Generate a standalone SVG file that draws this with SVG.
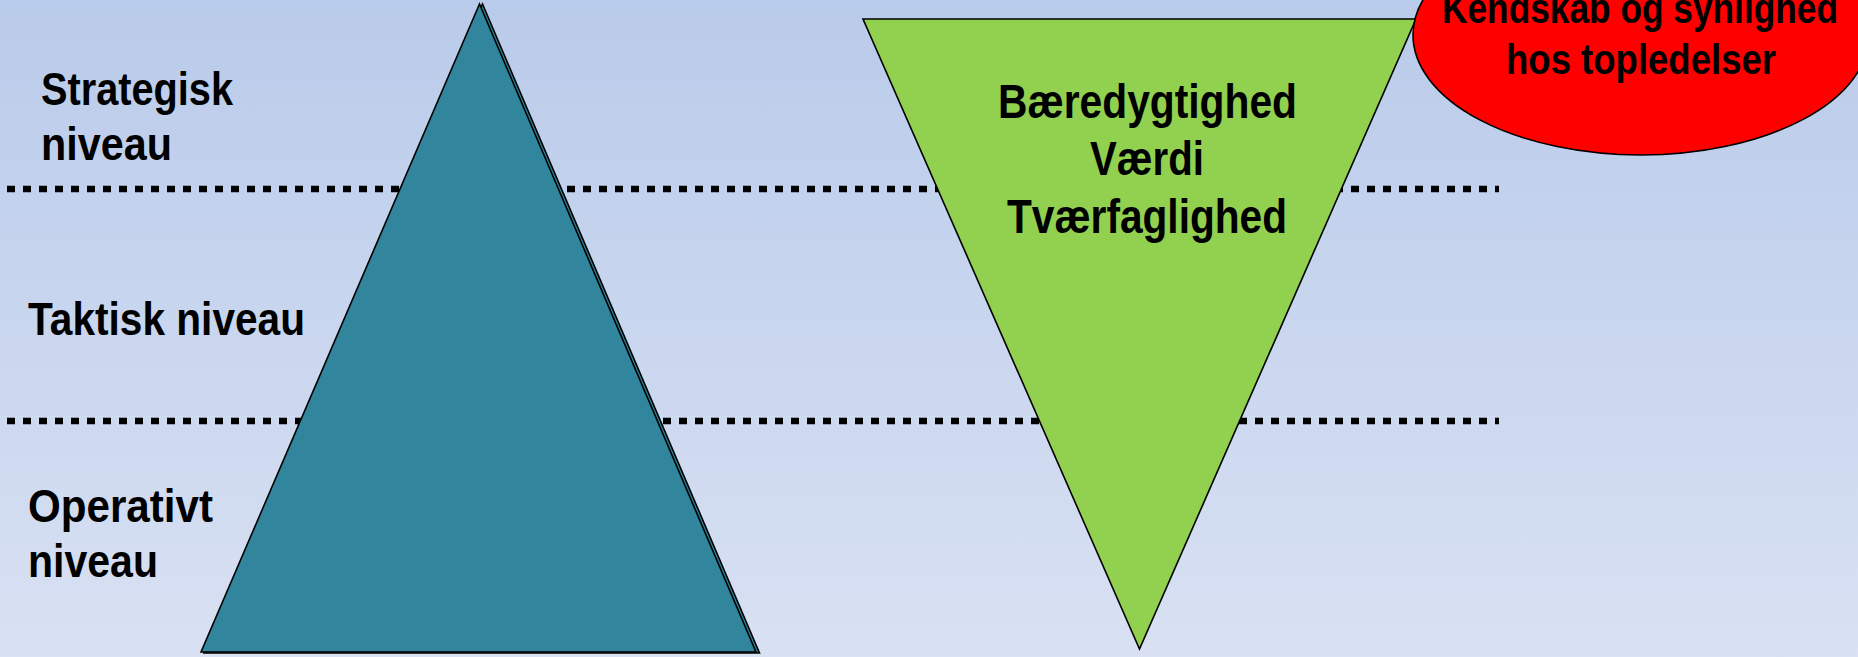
<svg xmlns="http://www.w3.org/2000/svg" width="1858" height="657" viewBox="0 0 1858 657">
  <defs>
    <linearGradient id="bg" x1="0" y1="0" x2="0" y2="1">
      <stop offset="0" stop-color="#b9cbea"/>
      <stop offset="1" stop-color="#d9e1f3"/>
    </linearGradient>
  </defs>
  <style>
    .lbl { font-family: "Liberation Sans", Arial, sans-serif; font-weight: bold; fill: #000; }
    .l46 { font-size: 46px; }
    .l48 { font-size: 48px; }
    .l42 { font-size: 42px; }
    .dots { stroke: #000; stroke-width: 6.5; stroke-dasharray: 8 8; fill: none; }
    .shape { stroke: #000; stroke-width: 1.6; stroke-linejoin: miter; }
  </style>
  <rect x="0" y="0" width="1858" height="657" fill="url(#bg)"/>

  <g id="level-lines">
    <line class="dots" x1="7" y1="189" x2="1499" y2="189"/>
    <line class="dots" x1="7" y1="421" x2="1499" y2="421"/>
  </g>

  <g id="level-labels">
    <text class="lbl l46" x="41" y="105" textLength="192" lengthAdjust="spacingAndGlyphs">Strategisk</text>
    <text class="lbl l46" x="41" y="160" textLength="131" lengthAdjust="spacingAndGlyphs">niveau</text>
    <text class="lbl l46" x="28" y="335" textLength="277" lengthAdjust="spacingAndGlyphs">Taktisk niveau</text>
    <text class="lbl l46" x="28" y="522" textLength="185" lengthAdjust="spacingAndGlyphs">Operativt</text>
    <text class="lbl l46" x="28" y="577" textLength="130" lengthAdjust="spacingAndGlyphs">niveau</text>
  </g>

  <g id="pyramid">
    <polygon class="shape" fill="#31859c" points="482.5,4 204,653 759.5,653"/>
    <polygon class="shape" fill="#31859c" points="479.5,4 201,652 756,652"/>
  </g>

  <g id="inverted-pyramid">
    <polygon class="shape" fill="#92d050" points="863,19 1416,19 1139.5,649"/>
    <text class="lbl l48" x="998" y="118" textLength="299" lengthAdjust="spacingAndGlyphs">Bæredygtighed</text>
    <text class="lbl l48" x="1090" y="175" textLength="114" lengthAdjust="spacingAndGlyphs">Værdi</text>
    <text class="lbl l48" x="1007" y="233" textLength="280" lengthAdjust="spacingAndGlyphs">Tværfaglighed</text>
  </g>

  <g id="top-management">
    <ellipse class="shape" fill="#ff0000" cx="1641" cy="35" rx="228" ry="120"/>
    <text class="lbl l42" x="1442" y="23" textLength="396" lengthAdjust="spacingAndGlyphs">Kendskab og synlighed</text>
    <text class="lbl l42" x="1506" y="74" textLength="270" lengthAdjust="spacingAndGlyphs">hos topledelser</text>
  </g>
</svg>
